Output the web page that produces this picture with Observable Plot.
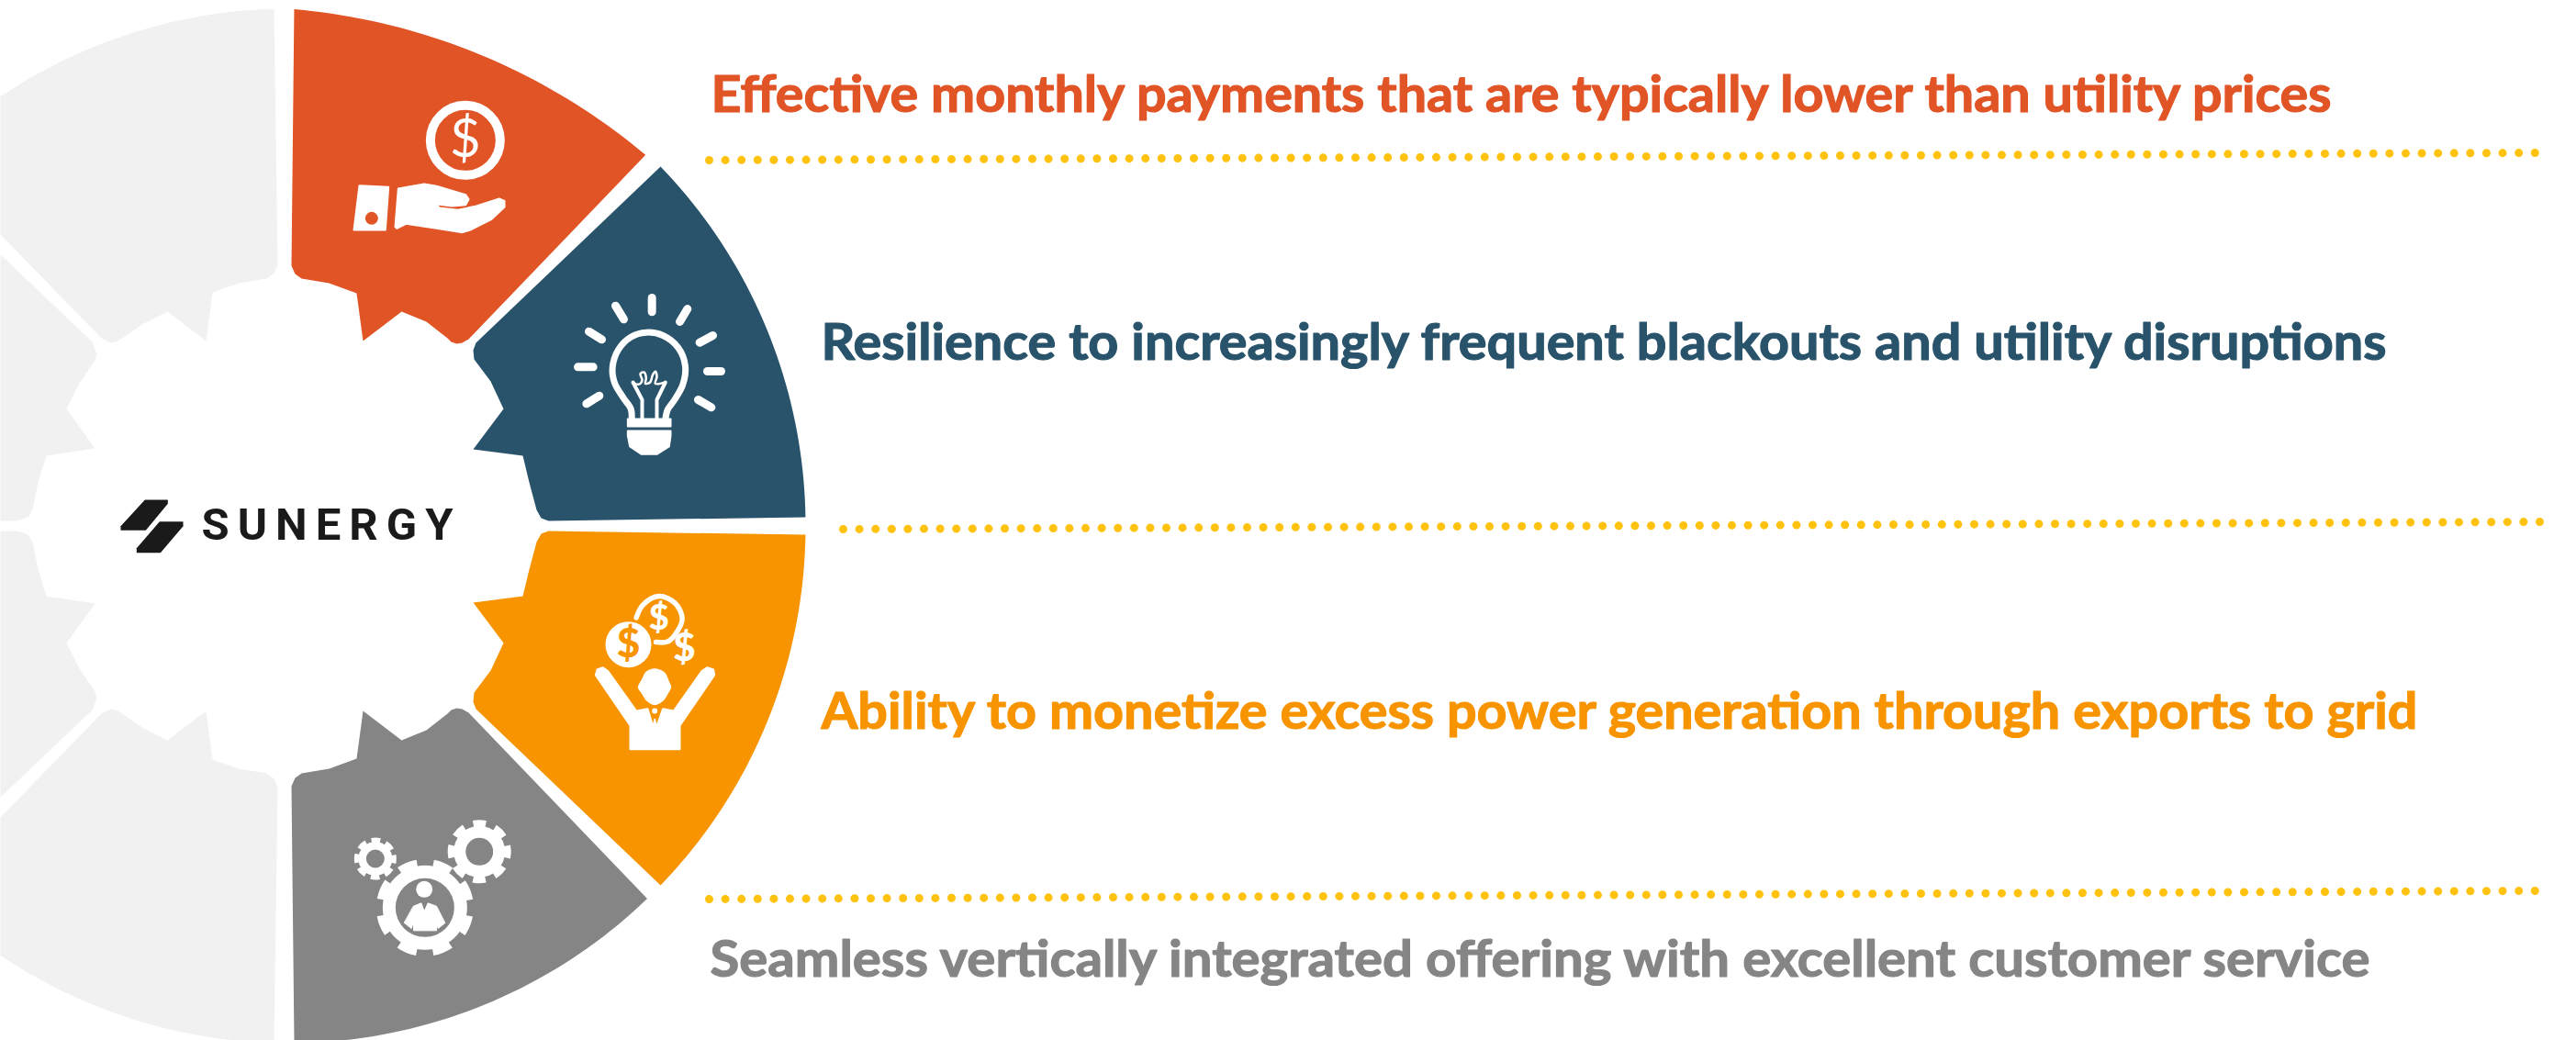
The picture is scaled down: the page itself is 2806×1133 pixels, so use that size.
<!DOCTYPE html>
<html><head><meta charset="utf-8">
<script src="https://cdn.jsdelivr.net/npm/d3@7"></script>
<script src="https://cdn.jsdelivr.net/npm/@observablehq/plot@0.6"></script>
<style>
html,body{margin:0;padding:0;background:#fff}
svg{display:block}
</style></head><body><div id="chart"></div>
<script>
// ---------- palette and text ----------
const colors = ["#E15426", "#28536B", "#F79400", "#858585"];
const paleGrey = "#F1F1F1", dotGold = "#FFC20E", logoInk = "#1A1A1A";
const headlines = [
  "Effective monthly payments that are typically lower than utility prices",
  "Resilience to increasingly frequent blackouts and utility disruptions",
  "Ability to monetize excess power generation through exports to grid",
  "Seamless vertically integrated offering with excellent customer service"
];
const headlineX = [774, 894, 894, 773];
const headlineBase = [121, 391, 793, 1063];
const headlineWidth = [1765, 1705, 1739, 1808];
const brand = "SUNERGY";

// ---------- dotted rules: [x1, y1, x2, y2] ----------
const rules = [
  [772, 174, 2762, 166],
  [918, 576, 2768, 568],
  [772, 979, 2762, 970]
];

// ---------- wheel geometry ----------
const cx = 314, cy = 572, R = 563, mirrorY = 1145;
const arcOn = (ox, oy, r, p0, p1) => {
  const a0 = Math.atan2(p0[1] - oy, p0[0] - ox), a1 = Math.atan2(p1[1] - oy, p1[0] - ox), p = [];
  for (let i = 0; i <= 40; i++) { const a = a0 + (a1 - a0) * i / 40; p.push([ox + r * Math.cos(a), oy + r * Math.sin(a)]); }
  return p;
};
const arc = (p0, p1) => arcOn(cx, cy, R, p0, p1);
const mirror = pts => pts.map(([x, y]) => [x, mirrorY - y]);

const orangeInner = [[510,369],[503,373],[497,374],[491,372],[487,368],[464,350],[437,339],[395,371],[388,319],[358,308],[328,303],[321,298],[317,289]];
const orangeWedge = [...arcOn(260, 695, 688, [320,9], [703,168]), ...orangeInner];
const greyWedge = mirror([...arc([320,9], [703,168]), ...orangeInner]);
const blueInner = [[597,567],[589,564],[584,555],[576,525],[569,496],[515,489],[548,445],[534,415],[516,391],[515,381],[518,373]];
const blueWedge = [...arc([719,181], [877,563]), ...blueInner];
const paleInnerTop = [[302,287],[298,297],[290,303],[260,308],[231,318],[224,371],[182,339],[156,352],[128,371],[120,373],[110,368]];
const paleTop = [...arc([0,105], [298,9]), ...paleInnerTop, [0,255]];
const paleMidTop = [[0,277],[100,372],[105,385],[103,392],[86,417],[72,445],[103,488],[50,496],[41,525],[35,555],[30,563],[18,567],[0,567]];

// ---------- icons: outlines in local units (1/3 px) ----------
const cardShape = [[48,305],[143,310],[133,450],[30,450]];
const handShape = [[175,315],[260,300],[300,307],[395,335],[405,350],[395,368],[350,372],[297,365],[310,378],[370,385],[430,372],[505,348],[522,355],[522,375],[480,415],[410,450],[385,458],[300,445],[200,430],[170,445],[165,440]];
const bulbRays = [[284,42,284,88],[400,78,375,120],[483,165,440,188],[465,282,510,282],[435,375,478,400],[42,268,92,268],[70,388,112,362],[78,152,120,178],[165,68,192,112]];
const bulbGlass = [[218,440],[215,405],[190,368],[162,320],[155,270],[175,210],[215,170],[265,155],[320,165],[370,205],[393,265],[385,325],[358,375],[335,408],[328,440]];
const bulbBand = [[205,438],[345,438],[345,462],[205,462]];
const bulbCap = [[205,477],[345,477],[345,492],[340,528],[300,553],[250,553],[212,528],[205,492]];
const filamentL = [[252,440],[252,375],[222,318]];
const filamentR = [[300,440],[300,375],[328,318]];
const filamentCoil = [[222,318],[240,325],[252,312],[246,290],[258,285],[265,305],[262,322],[278,318],[286,295],[295,283],[300,300],[295,322],[328,318]];
const headShape = [[218,278],[250,290],[265,320],[272,340],[262,360],[245,385],[218,398],[192,385],[175,360],[163,340],[175,315],[190,288]];
const cheerBody = [[25,300],[30,282],[48,275],[65,287],[158,417],[195,410],[213,470],[218,445],[224,470],[245,410],[280,417],[372,287],[390,275],[410,282],[413,300],[300,465],[300,542],[138,542],[138,465]];
const coinRing = [[158,112],[180,70],[232,42],[285,65],[308,115],[290,160],[262,190],[222,192]];
const suitBody = [[225,305],[250,295],[260,322],[272,295],[300,305],[328,360],[305,378],[300,355],[300,385],[225,385],[225,355],[218,378],[195,360]];
const logoTop = [[112,42],[187,42],[187,55],[115,142],[33,142],[33,128]];
const logoBottom = [[160,113],[237,113],[237,128],[163,215],[85,215],[85,200]];

// ---------- mark helpers ----------
const poly = (pts, fill, curve = "linear-closed") => Plot.line(pts, {x: d => d[0], y: d => d[1], curve, fill, stroke: "none"});
const local = (ox, oy) => ({
  poly: (pts, fill, extra = {}) => Plot.line(pts, {x: d => ox + d[0] / 3, y: d => oy + d[1] / 3, curve: "linear-closed", fill, stroke: fill, strokeWidth: 2, strokeLinejoin: "round", ...extra}),
  smooth: (pts, fill) => Plot.line(pts, {x: d => ox + d[0] / 3, y: d => oy + d[1] / 3, curve: "catmull-rom-closed", fill, stroke: "none"}),
  path: (pts, stroke, strokeWidth, curve = "catmull-rom") => Plot.line(pts, {x: d => ox + d[0] / 3, y: d => oy + d[1] / 3, curve, stroke, strokeWidth, strokeLinecap: "round", strokeLinejoin: "round"}),
  seg: (s, stroke, strokeWidth) => Plot.line([[s[0], s[1]], [s[2], s[3]]], {x: d => ox + d[0] / 3, y: d => oy + d[1] / 3, stroke, strokeWidth, strokeLinecap: "round"}),
  disc: (x, y, r, fill, extra = {}) => Plot.dot([[x, y]], {x: d => ox + d[0] / 3, y: d => oy + d[1] / 3, r, fill, stroke: "none", ...extra}),
  glyph: (x, y, text, size, fill, weight = 700) => Plot.text([text], {x: () => ox + x / 3, y: () => oy + y / 3, text: d => d, fontSize: size, fontFamily: "Lato", fontWeight: weight, fill, textAnchor: "middle", lineAnchor: "middle"})
});
const gear = (g, x, y, rTip, rBody, rHole, n, tooth, startDeg, bg) => {
  const mid = (rTip + rBody) / 2 - 2, c = 2 * Math.PI * mid, per = c / n;
  return [
    g.disc(x, y, mid, "none", {stroke: "white", strokeWidth: (rTip - rBody) + 4, strokeDasharray: `${tooth} ${per - tooth}`, strokeDashoffset: tooth / 2 - startDeg * Math.PI / 180 * mid}),
    g.disc(x, y, rBody, "white"),
    g.disc(x, y, rHole, bg)
  ];
};

const hand = local(375, 100), bulb = local(615, 310), cheer = local(640, 635), gears = local(375, 885), logo = local(120, 530);

const marks = [
  // pale half of the wheel
  poly(paleTop, paleGrey),
  poly(paleMidTop, paleGrey),
  poly(mirror(paleMidTop), paleGrey),
  poly(mirror(paleTop), paleGrey),
  // four coloured wedges
  poly(orangeWedge, colors[0]),
  poly(blueWedge, colors[1]),
  poly(mirror(blueWedge), colors[2]),
  poly(greyWedge, colors[3]),

  // icon 1: coin in hand
  hand.disc(394, 157, 38, "none", {stroke: "white", strokeWidth: 10}),
  hand.glyph(394, 157, "$", 58, "white", 400),
  hand.poly(cardShape, "white"),
  hand.disc(88, 412, 7, colors[0]),
  hand.poly(handShape, "white"),

  // icon 2: bulb
  ...bulbRays.map(s => bulb.seg(s, "white", 9)),
  bulb.path(bulbGlass, "white", 7),
  bulb.poly(bulbBand, "white"),
  bulb.poly(bulbCap, "white"),
  bulb.path(filamentL, "white", 4, "linear"),
  bulb.path(filamentR, "white", 4, "linear"),
  bulb.path(filamentCoil, "white", 2.5),

  // icon 3: cheering person with coins
  cheer.disc(132, 200, 25, "white"),
  cheer.glyph(132, 198, "$", 44, colors[2], 900),
  cheer.path(coinRing, "white", 5.5),
  cheer.glyph(232, 115, "$", 38, "white", 900),
  cheer.glyph(315, 214, "$", 42, "white", 900),
  cheer.smooth(headShape, "white"),
  cheer.poly(cheerBody, "white"),
  cheer.disc(218, 417, 3, "white"),

  // icon 4: gears and person
  ...gear(gears, 262, 310, 53, 46, 32, 8, 20, 22.5, colors[3]),
  ...gear(gears, 440, 127, 34.5, 28, 15, 8, 13, 0, colors[3]),
  ...gear(gears, 100, 150, 23, 18.5, 10, 8, 9, 0, colors[3]),
  gears.disc(260, 250, 9, "white"),
  gears.poly(suitBody, "white", {strokeWidth: 1}),

  // logo
  logo.poly(logoTop, logoInk, {strokeWidth: 0}),
  logo.poly(logoBottom, logoInk, {strokeWidth: 0}),
  Plot.text([brand], {x: () => 219, y: () => 587, text: d => d, fontFamily: "Roboto", fontWeight: 700, fontSize: 49, fill: logoInk, textAnchor: "start", lineAnchor: "bottom", className: "logo"}),

  // dotted rules
  ...rules.map(r => Plot.line([[r[0], r[1]], [r[2], r[3]]], {x: d => d[0], y: d => d[1], stroke: dotGold, strokeWidth: 9, strokeLinecap: "round", strokeDasharray: "0 17.6"})),

  // headlines
  ...headlines.map((t, i) => Plot.text([t], {x: () => headlineX[i], y: () => headlineBase[i], text: d => d, fontFamily: "Lato", fontWeight: 700, fontSize: 55, fill: colors[i], stroke: colors[i], strokeWidth: 1.2, textAnchor: "start", lineAnchor: "bottom", className: "headline" + i}))
];

const chart = Plot.plot({
  width: 2806, height: 1133, margin: 0,
  x: {domain: [0, 2806], range: [0, 2806], axis: null},
  y: {domain: [0, 1133], range: [0, 1133], axis: null},
  style: {background: "white", overflow: "hidden"},
  marks
});
headlines.forEach((t, i) => {
  d3.select(chart).selectAll(".headline" + i + " text").attr("textLength", headlineWidth[i]).attr("lengthAdjust", "spacingAndGlyphs");
});
d3.select(chart).selectAll(".logo text").attr("textLength", 274).attr("lengthAdjust", "spacing");
document.getElementById("chart").append(chart);
</script></body></html>
